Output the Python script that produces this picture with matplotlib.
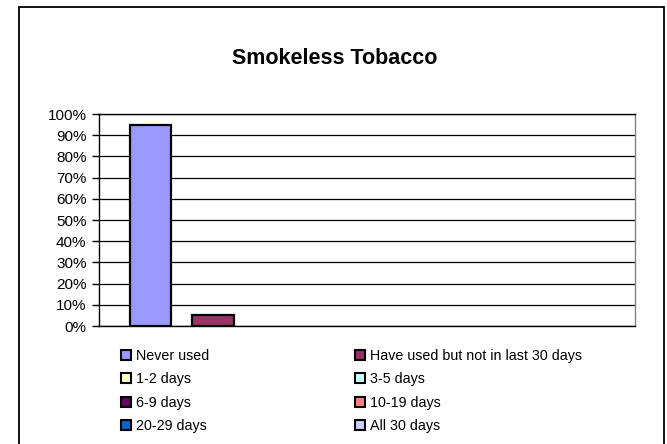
import matplotlib
matplotlib.use("Agg")
import matplotlib.pyplot as plt
from matplotlib.patches import Patch, Rectangle
from matplotlib.ticker import PercentFormatter

plt.rcParams['font.family'] = ['Liberation Sans', 'DejaVu Sans']

title = "Smokeless Tobacco"
series = ["Never used", "Have used but not in last 30 days", "1-2 days", "3-5 days",
          "6-9 days", "10-19 days", "20-29 days", "All 30 days"]
values = [95, 5, 0, 0, 0, 0, 0, 0]
colors = ["#9999FF", "#993366", "#FFFFCC", "#CCFFFF", "#660066", "#FF8080", "#0066CC", "#CCCCFF"]
yticks = [0, 10, 20, 30, 40, 50, 60, 70, 80, 90, 100]

W, H = 667, 444
fig = plt.figure(figsize=(W / 100, H / 100), dpi=100)

# outer chart frame (bottom edge lies outside the image)
fig.patches.append(Rectangle((19 / W, -5 / H), (664 - 19) / W, (437 + 5) / H,
                             transform=fig.transFigure, fill=False, edgecolor='black',
                             linewidth=1.3))

ax = fig.add_axes([99 / W, (H - 326) / H, (635 - 99) / W, (326 - 114) / H])
for i, (v, c) in enumerate(zip(values, colors)):
    if v > 0:
        ax.bar(i, v, width=0.66, color=c, edgecolor='black', linewidth=1.6, zorder=3)

ax.set_xlim(-0.824, 7.75)
ax.set_ylim(0, 100)
ax.set_yticks(yticks)
ax.yaxis.set_major_formatter(PercentFormatter(decimals=0))
ax.set_xticks([])
ax.tick_params(axis='y', direction='out', length=5, width=1, labelsize=11, pad=4, colors='black')
ax.yaxis.grid(True, color='black', linewidth=0.9, zorder=0)
ax.set_axisbelow(True)
ax.spines['left'].set_color('black')
ax.spines['bottom'].set_color('black')
ax.spines['top'].set_color('black')
ax.spines['right'].set_color('#808080')
for s in ax.spines.values():
    s.set_linewidth(1.0)

fig.text(335 / W, (H - 58) / H, title, ha='center', va='center', fontsize=15.5, fontweight='bold')

handles = [Patch(facecolor=c, edgecolor='black', linewidth=1.5) for c in colors]
left_idx = [0, 2, 4, 6]
right_idx = [1, 3, 5, 7]
kw = dict(loc='upper left', frameon=False, fontsize=10.25, handlelength=0.7, handleheight=0.7,
          handletextpad=0.35, labelspacing=0.66, borderpad=0, borderaxespad=0)
leg1 = fig.legend([handles[i] for i in left_idx], [series[i] for i in left_idx],
                  bbox_to_anchor=(121 / W, (H - 349) / H), **kw)
leg2 = fig.legend([handles[i] for i in right_idx], [series[i] for i in right_idx],
                  bbox_to_anchor=(355 / W, (H - 349) / H), **kw)

fig.savefig("out.png", dpi=100)
